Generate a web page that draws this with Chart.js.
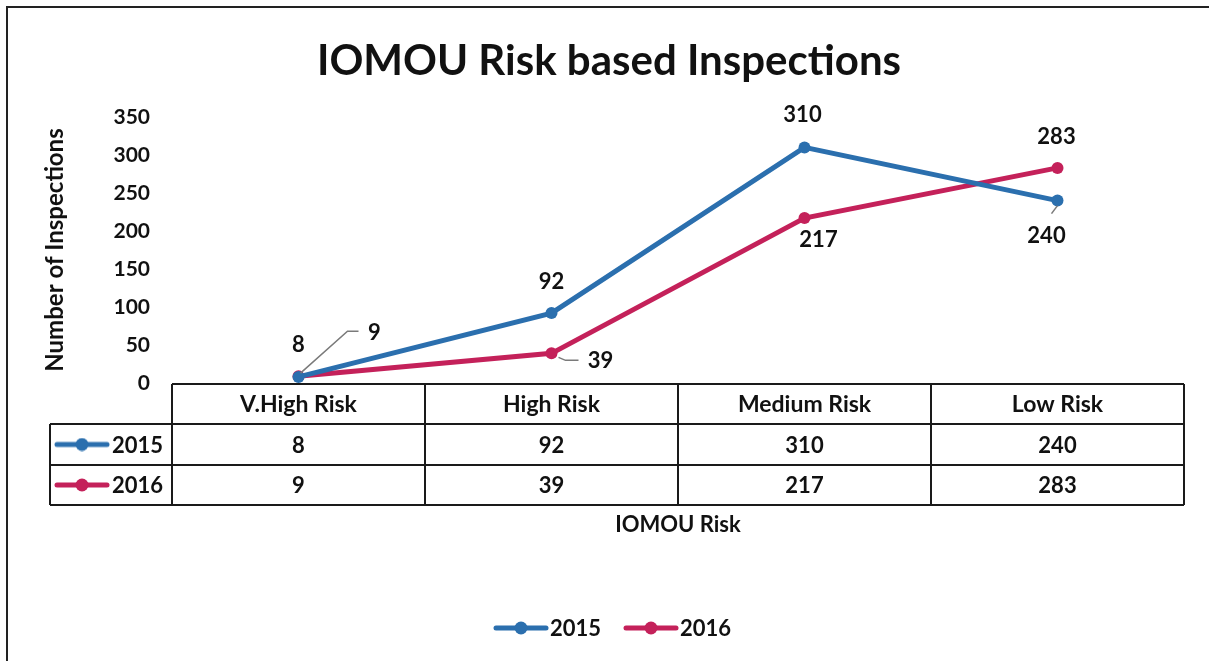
<!DOCTYPE html>
<html><head><meta charset="utf-8">
<script src="https://cdn.jsdelivr.net/npm/chart.js@4"></script>
<style>html,body{margin:0;padding:0;background:#fff;} canvas{display:block;}</style>
</head><body>
<canvas id="c" width="1209" height="661"></canvas>
<script>
// ---- data ----
const categories = ['V.High Risk', 'High Risk', 'Medium Risk', 'Low Risk'];
const seriesNames = ['2015', '2016'];
const values2015 = [8, 92, 310, 240];
const values2016 = [9, 39, 217, 283];
const yTicks = [0, 50, 100, 150, 200, 250, 300, 350];
const chartTitle = 'IOMOU Risk based Inspections';
const yAxisTitle = 'Number of Inspections';
const xAxisTitle = 'IOMOU Risk';

// ---- style ----
const FONT = "Lato, 'Open Sans', sans-serif";
const TXT = '#111';
const COLORS = ['#2B6FAE', '#C4215A'];
// data label offsets relative to point [dx, dy], plus optional leader polylines
const labelOffsets = [
  [[0, -32], [0, -31], [-2, -32], [-11, 35]],
  [[76, -43], [49, 8], [14, 22], [-1, -31]]
];
const leaders = [
  [null, null, null, [[0, 5], [-6, 13]]],
  [[[2, -3], [49, -45], [60, -45]], [[7, 4], [14, 7], [27, 7]], null, null]
];

Chart.defaults.font.family = FONT;
Chart.defaults.color = TXT;

function makeIcon(color) {
  const c = document.createElement('canvas');
  c.width = 56; c.height = 14;
  const g = c.getContext('2d');
  g.strokeStyle = color; g.lineWidth = 5; g.lineCap = 'round';
  g.beginPath(); g.moveTo(3, 7); g.lineTo(53, 7); g.stroke();
  g.fillStyle = color;
  g.beginPath(); g.arc(28, 7, 6.5, 0, Math.PI * 2); g.fill();
  return c;
}
const icons = COLORS.map(makeIcon);

const framePlugin = {
  id: 'frame',
  afterDraw(chart) {
    const ctx = chart.ctx;
    ctx.save();
    ctx.strokeStyle = '#222'; ctx.lineWidth = 2;
    ctx.beginPath();
    ctx.moveTo(7, 661); ctx.lineTo(7, 7); ctx.lineTo(1209, 7);
    ctx.stroke();
    // title
    ctx.fillStyle = TXT;
    ctx.font = 'bold 42px ' + FONT;
    ctx.textAlign = 'center'; ctx.textBaseline = 'middle';
    ctx.fillText(chartTitle, 609, 61);
    // legend
    ctx.font = 'bold 22px ' + FONT;
    ctx.textAlign = 'left';
    const iconW = 56, gap = 1, spacing = 22;
    const widths = seriesNames.map(s => ctx.measureText(s).width);
    const total = widths.reduce((a, w) => a + iconW + gap + w, 0) + spacing * (seriesNames.length - 1);
    let lx = 612 - total / 2;
    const ly = 628;
    seriesNames.forEach((s, k) => {
      ctx.drawImage(icons[k], lx, ly - 7);
      ctx.fillText(s, lx + iconW + gap, ly + 1);
      lx += iconW + gap + widths[k] + spacing;
    });
    ctx.restore();
  }
};

const tablePlugin = {
  id: 'dataTable',
  afterDraw(chart) {
    const ctx = chart.ctx;
    const x = chart.scales.x;
    const area = chart.chartArea;
    const n = categories.length;
    const half = (x.getPixelForValue(1) - x.getPixelForValue(0)) / 2;
    const left = x.getPixelForValue(0) - half;
    const right = x.getPixelForValue(n - 1) + half;
    const labelLeft = 50;
    const y0 = area.bottom + 1, y1 = y0 + 40, y2 = y1 + 41, y3 = y2 + 40;
    ctx.save();
    ctx.strokeStyle = '#1a1a1a'; ctx.lineWidth = 2;
    ctx.beginPath();
    ctx.moveTo(left, y0); ctx.lineTo(right, y0);
    [y1, y2, y3].forEach(y => { ctx.moveTo(labelLeft, y); ctx.lineTo(right, y); });
    ctx.moveTo(labelLeft, y1); ctx.lineTo(labelLeft, y3);
    for (let i = 0; i <= n; i++) {
      const bx = left + i * half * 2;
      ctx.moveTo(bx, y0); ctx.lineTo(bx, y3);
    }
    ctx.stroke();
    ctx.fillStyle = TXT;
    ctx.textAlign = 'center'; ctx.textBaseline = 'middle';
    const series = [values2015, values2016];
    categories.forEach((c, i) => {
      const cx = x.getPixelForValue(i);
      ctx.font = 'bold 23px ' + FONT;
      ctx.fillText(c, cx, (y0 + y1) / 2 + 1);
      ctx.font = 'bold 22px ' + FONT;
      ctx.fillText(String(series[0][i]), cx, (y1 + y2) / 2 + 1);
      ctx.fillText(String(series[1][i]), cx, (y2 + y3) / 2 + 1);
    });
    ctx.textAlign = 'left';
    ctx.font = 'bold 22px ' + FONT;
    [[y1, y2], [y2, y3]].forEach(([a, b], s) => {
      const cy = (a + b) / 2;
      ctx.drawImage(icons[s], labelLeft + 4, cy - 7);
      ctx.fillText(seriesNames[s], labelLeft + 62, cy + 1);
    });
    ctx.restore();
  }
};

const labelPlugin = {
  id: 'pointLabels',
  afterDatasetsDraw(chart) {
    const ctx = chart.ctx;
    ctx.save();
    ctx.font = 'bold 22px ' + FONT;
    ctx.textAlign = 'center'; ctx.textBaseline = 'middle';
    chart.data.datasets.forEach((ds, d) => {
      const meta = chart.getDatasetMeta(d);
      meta.data.forEach((pt, i) => {
        const ld = leaders[d][i];
        if (ld) {
          ctx.strokeStyle = '#7a7a7a'; ctx.lineWidth = 1.5;
          ctx.beginPath();
          ld.forEach(([dx, dy], k) => k ? ctx.lineTo(pt.x + dx, pt.y + dy) : ctx.moveTo(pt.x + dx, pt.y + dy));
          ctx.stroke();
        }
        const [ox, oy] = labelOffsets[d][i];
        ctx.fillStyle = TXT;
        ctx.fillText(String(ds.data[i]), pt.x + ox, pt.y + oy);
      });
    });
    ctx.restore();
  }
};

new Chart(document.getElementById('c'), {
  type: 'line',
  data: {
    labels: categories,
    datasets: [
      { label: seriesNames[0], data: values2015, borderColor: COLORS[0], backgroundColor: COLORS[0],
        borderWidth: 5, pointRadius: 6, pointHoverRadius: 6, pointBackgroundColor: COLORS[0], pointBorderWidth: 0, tension: 0 },
      { label: seriesNames[1], data: values2016, borderColor: COLORS[1], backgroundColor: COLORS[1],
        borderWidth: 5, pointRadius: 6, pointHoverRadius: 6, pointBackgroundColor: COLORS[1], pointBorderWidth: 0, tension: 0 }
    ]
  },
  options: {
    responsive: false,
    animation: false,
    layout: { padding: { left: 0, right: 25, top: 117, bottom: 0 } },
    plugins: {
      title: { display: false },
      legend: { display: false },
      tooltip: { enabled: false }
    },
    scales: {
      x: {
        offset: true,
        grid: { display: false }, border: { display: false },
        ticks: { display: false },
        title: { display: true, text: xAxisTitle, color: TXT, font: { size: 22, weight: 'bold', family: FONT, lineHeight: 1.2 }, padding: { top: 0, bottom: 123 } },
        afterFit(scale) { scale.height = 278; }
      },
      y: {
        min: 0, max: 350,
        grid: { display: false, drawTicks: false }, border: { display: false },
        ticks: { color: TXT, font: { size: 21, weight: 'bold', family: FONT }, padding: 22 },
        afterBuildTicks(scale) { scale.ticks = yTicks.map(v => ({ value: v })); },
        title: { display: true, text: yAxisTitle, color: TXT, font: { size: 24, weight: 'bold', family: FONT, lineHeight: 1.2 }, padding: { top: 41, bottom: 0 } },
        afterFit(scale) { scale.width = 172; }
      }
    }
  },
  plugins: [framePlugin, tablePlugin, labelPlugin]
});
</script>
</body></html>
